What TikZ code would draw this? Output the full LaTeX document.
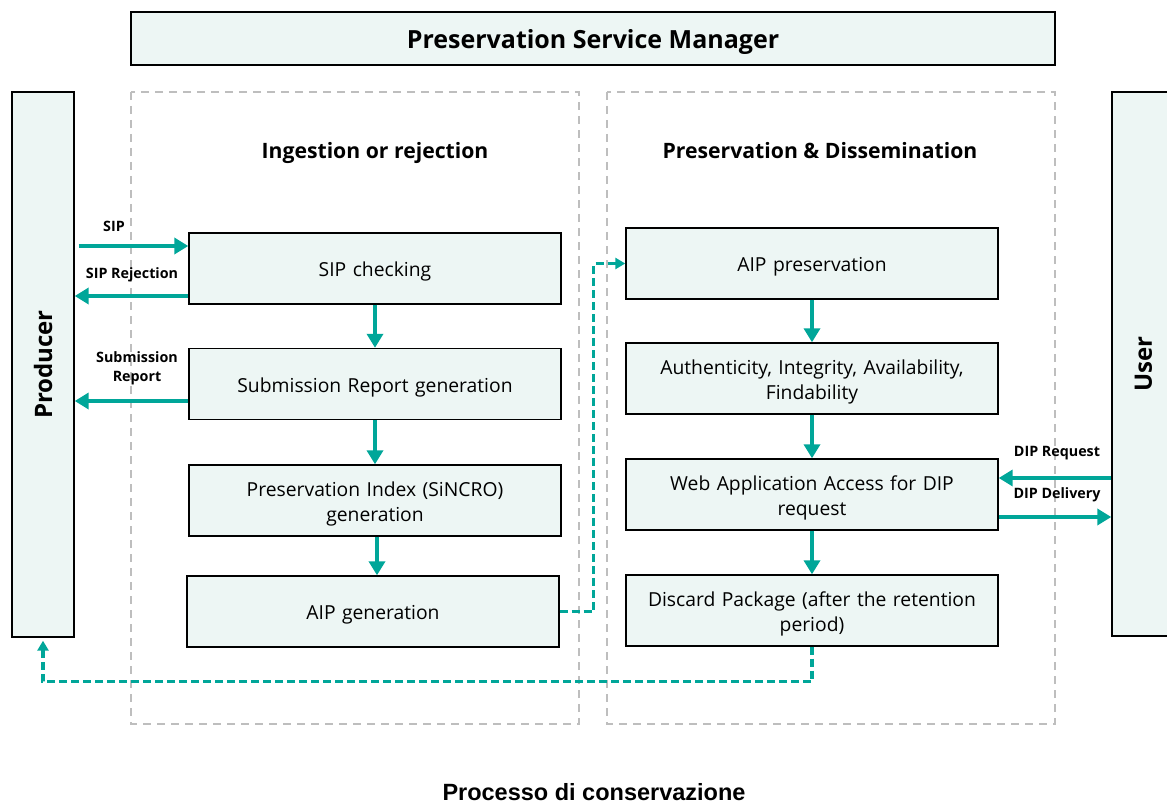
\documentclass[tikz,border=0pt]{standalone}
\usepackage{fontspec}
\setmainfont{Open Sans}
\newfontfamily\footfont{Liberation Sans}
\usetikzlibrary{arrows.meta,calc}
\definecolor{teal1}{RGB}{0,166,153}
\definecolor{boxfill}{RGB}{237,246,244}
\definecolor{grey1}{RGB}{190,190,190}
\newcommand{\lowr}[1]{\raisebox{-3pt}[\height][\depth]{#1}}
\begin{document}
\begin{tikzpicture}[x=1pt,y=-1pt,
  box/.style={draw=black, line width=1.4pt, fill=boxfill, minimum width=372pt, minimum height=71pt, align=center, text width=360pt, font=\fontsize{19.3}{25}\selectfont, inner sep=2pt},
  side/.style={draw=black, line width=1.4pt, fill=boxfill, rotate=90, font=\bfseries\fontsize{24}{28}\selectfont},
  flow/.style={teal1, line width=3.8pt, -{Triangle[length=14pt,width=16pt]}},
  dflow/.style={teal1, line width=3.2pt, dash pattern=on 8pt off 4pt, -{Triangle[length=10pt,width=11pt]}},
  region/.style={grey1, line width=2pt, dash pattern=on 8pt off 6pt},
  lbl/.style={font=\bfseries\fontsize{14.3}{17}\selectfont, align=center},
  head/.style={font=\bfseries\fontsize{21.2}{25}\selectfont}]
\useasboundingbox (0,0) rectangle (1167,805);

% regions
\draw[region] (131,92) rectangle (579,724);
\draw[region] (607,92) rectangle (1055,724);

% top
\node[draw=black, line width=1.4pt, fill=boxfill, minimum width=924pt, minimum height=53pt, font=\bfseries\fontsize{25}{29}\selectfont] (psm) at (593,38.5) {\raisebox{-4pt}[\height][\depth]{Preservation Service Manager}};

% side actors
\node[side, minimum width=545pt, minimum height=62pt] (prod) at (43,364.5) {Producer};
\node[side, minimum width=544pt, minimum height=63pt] (user) at (1143.5,364) {User};

% headings
\node[head] (h1) at (375,153) {Ingestion or rejection};
\node[head] (h2) at (820,151) {Preservation \& Dissemination};

% left boxes
\node[box] (sipc) at (375,268.5) {\lowr{SIP checking}};
\node[box] (subr) at (375,384) {\lowr{Submission Report generation}};
\node[box] (pidx) at (375,500.5) {\lowr{Preservation Index (SiNCRO)}\\\lowr{generation}};
\node[box] (aipg) at (373,611.5) {\lowr{AIP generation}};

% right boxes
\node[box] (aipp) at (812,263.5) {\lowr{AIP preservation}};
\node[box] (auth) at (812,378.5) {\lowr{Authenticity, Integrity, Availability,}\\\lowr{Findability}};
\node[box] (web) at (812,494.5) {\lowr{Web Application Access for DIP}\\\lowr{request}};
\node[box] (disc) at (812,610.5) {\lowr{Discard Package (after the retention}\\\lowr{period)}};

% vertical flows
\draw[flow] (sipc.south) -- (subr.north);
\draw[flow] (subr.south) -- (pidx.north);
\draw[flow] ([xshift=2pt]pidx.south) -- ([xshift=2pt]pidx.south |- aipg.north);
\draw[flow] (aipp.south) -- (auth.north);
\draw[flow] (auth.south) -- (web.north);
\draw[flow] (web.south) -- (disc.north);

% producer exchanges
\draw[flow] ([xshift=4pt]prod.south |- 0,246) -- (sipc.west |- 0,246);
\draw[flow] (sipc.west |- 0,296) -- (prod.south |- 0,296);
\draw[flow] (subr.west |- 0,401) -- (prod.south |- 0,401);
\node[lbl] (lsip) at (114,226) {SIP};
\node[lbl] (lrej) at (132,275) {SIP Rejection};
\node[lbl, font=\bfseries\fontsize{14.3}{19}\selectfont] (lsub) at (137,368) {Submission\\Report};

% user exchanges
\draw[flow] (user.north |- 0,478) -- (web.east |- 0,478);
\draw[flow] (web.east |- 0,517) -- (user.north |- 0,517);
\node[lbl] (lreq) at (1057,453) {DIP Request};
\node[lbl] (ldel) at (1057,495) {DIP Delivery};

% dashed flows
\draw[dflow] (aipg.east) -- ++(34,0) |- (aipp.west);
\draw[dflow, shorten >=3pt] (disc.south) -- ++(0,35) -| (prod.west);

% footer
\node[font=\footfont\bfseries\fontsize{23.5}{27}\selectfont] (foot) at (594,792) {Processo di conservazione};
\end{tikzpicture}
\end{document}
